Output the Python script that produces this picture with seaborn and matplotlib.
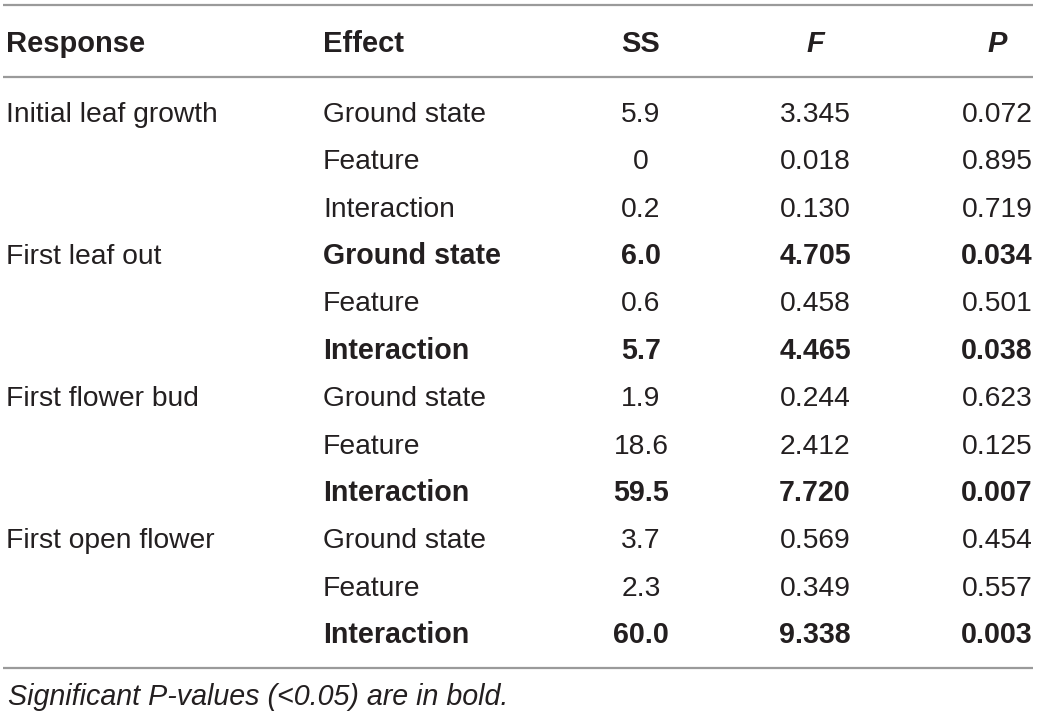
import numpy as np
import pandas as pd
import seaborn as sns
import matplotlib.pyplot as plt

# table contents
responses = ["Initial leaf growth", "First leaf out", "First flower bud", "First open flower"]
effects = ["Ground state", "Feature", "Interaction"]
ss_vals = ["5.9", "0", "0.2", "6.0", "0.6", "5.7", "1.9", "18.6", "59.5", "3.7", "2.3", "60.0"]
f_vals = [3.345, 0.018, 0.130, 4.705, 0.458, 4.465, 0.244, 2.412, 7.720, 0.569, 0.349, 9.338]
p_vals = [0.072, 0.895, 0.719, 0.034, 0.501, 0.038, 0.623, 0.125, 0.007, 0.454, 0.557, 0.003]
headers = ["Response", "Effect", "SS", "F", "P"]
footnote = "Significant P-values (<0.05) are in bold."

# bold when significant
bold_rows = [0, 0, 0, 1, 0, 1, 0, 0, 1, 0, 0, 1]

df = pd.DataFrame({
    "Response": [r if i % 3 == 0 else "" for i, r in enumerate(np.repeat(responses, 3))],
    "Effect": effects * len(responses),
    "SS": ss_vals,
    "F": [f"{v:.3f}" for v in f_vals],
    "P": [f"{v:.3f}" for v in p_vals],
    "bold": bold_rows,
})

sns.set_theme(style="white")
plt.rcParams['font.family'] = ['Liberation Sans', 'DejaVu Sans']

txt = "#231f20"
rule = "#9a9a9a"
fs = 20.3

fig = plt.figure(figsize=(10.39, 7.17), dpi=100)
ax = fig.add_axes([0, 0, 1, 1])
ax.set_xlim(0, 1039)
ax.set_ylim(717, 0)
ax.axis("off")

# column x positions and alignment
col_x = {"Response": 6, "Effect": 323, "SS": 641, "F": 815, "P": 997}
col_ha = {"Response": "left", "Effect": "left", "SS": "center", "F": "center", "P": "center"}

# rules
for y in [5, 77, 668]:
    ax.plot([3, 1033], [y, y], color=rule, lw=1.6, solid_capstyle="butt")

# header
for h in headers:
    style = "italic" if h in ("F", "P") else "normal"
    ax.text(col_x[h], 52, h, ha=col_ha[h], va="baseline", fontsize=fs + 0.7,
            fontweight="bold", fontstyle=style, color=txt)

# body
row_step = 47.36
for i, row in df.iterrows():
    yb = 122 + i * row_step
    for c in headers:
        w = "bold" if (row["bold"] and c != "Response") else "normal"
        ax.text(col_x[c], yb, row[c], ha=col_ha[c], va="baseline",
                fontsize=fs + (0.3 if w == "bold" else 0), fontweight=w, color=txt)

ax.text(8, 705, footnote, ha="left", va="baseline", fontsize=fs + 0.3,
        fontstyle="italic", color=txt)

fig.savefig("out.png", dpi=100)
